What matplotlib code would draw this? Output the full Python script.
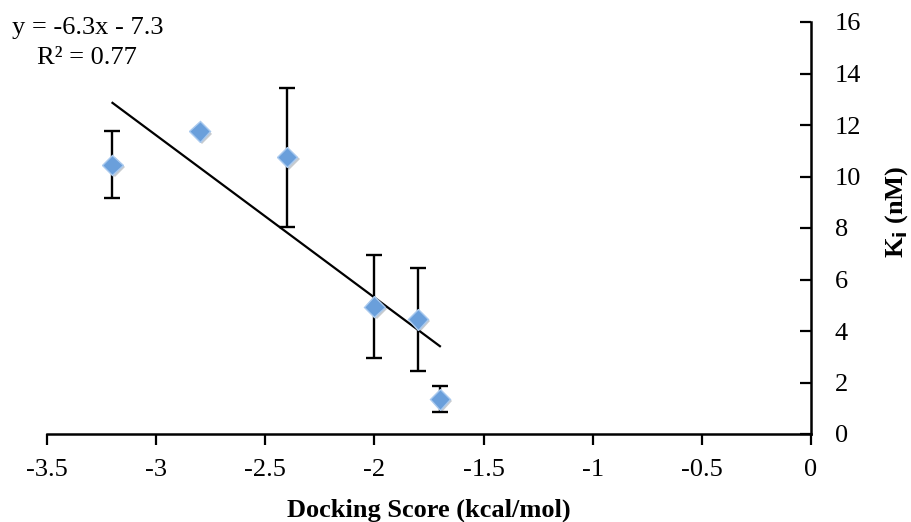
import matplotlib.pyplot as plt
import matplotlib.patheffects as pe
import numpy as np

# --------------------------------------------------
# Data
# --------------------------------------------------

docking_score = [-3.2, -2.8, -2.4, -2.0, -1.8, -1.7]
ki_nm = [10.45, 11.75, 10.75, 4.95, 4.45, 1.35]
ki_err = [1.3, 0.0, 2.7, 2.0, 2.0, 0.5]

slope = -6.3
intercept = -7.3
r_squared = 0.77

# --------------------------------------------------
# Plot Style
# --------------------------------------------------

plt.rcParams["font.family"] = ["Liberation Serif", "DejaVu Serif"]
FS = 19

fig = plt.figure(figsize=(9.11, 5.22), dpi=100)
ax = fig.add_axes([47 / 911, 1 - 434 / 522, (811 - 47) / 911, (434 - 22) / 522])

# trendline over the data range
fit_x = np.array([min(docking_score), max(docking_score)])
fit_y = slope * fit_x + intercept
ax.plot(fit_x, fit_y, color="black", lw=1.6, zorder=2)

ax.errorbar(docking_score, ki_nm, yerr=ki_err, fmt="none",
            ecolor="black", elinewidth=1.7, capsize=6, capthick=1.7, zorder=3)

pts, = ax.plot(docking_score, ki_nm, linestyle="none", marker="D",
               markersize=10.5, markerfacecolor="#6a9fdb",
               markeredgecolor="#a9c9ee", markeredgewidth=1, zorder=4)
pts.set_path_effects([pe.SimplePatchShadow(offset=(1.5, -1.5), alpha=0.25),
                      pe.Normal()])

ax.set_xlim(-3.5, 0)
ax.set_ylim(0, 16)
ax.set_xticks(np.arange(-3.5, 0.01, 0.5))
ax.set_xticklabels(["-3.5", "-3", "-2.5", "-2", "-1.5", "-1", "-0.5", "0"])
ax.set_yticks(np.arange(0, 17, 2))

for side in ["top", "left"]:
    ax.spines[side].set_visible(False)
ax.spines["bottom"].set_linewidth(1.8)
ax.spines["right"].set_linewidth(1.8)

ax.yaxis.tick_right()
ax.tick_params(axis="y", direction="in", length=8, width=1.6, labelsize=FS, pad=17)
ax.tick_params(axis="x", direction="out", length=8, width=1.6, labelsize=FS, pad=10)

ax.set_xlabel("Docking Score (kcal/mol)", fontsize=FS, fontweight="bold", labelpad=13)
ax.yaxis.set_label_position("right")
ax.set_ylabel("K$_\\mathbf{i}$ (nM)", fontsize=FS, fontweight="bold",
              rotation=90, va="center", ha="center")
ax.yaxis.set_label_coords(1.1126, 0.54)

fig.text(88 / 911, 1 - 28 / 522, "y = -6.3x - 7.3", fontsize=FS,
         ha="center", va="center")
fig.text(87 / 911, 1 - 58 / 522, "R² = 0.77", fontsize=FS,
         ha="center", va="center")

plt.savefig("out.png", dpi=100)
plt.close()
